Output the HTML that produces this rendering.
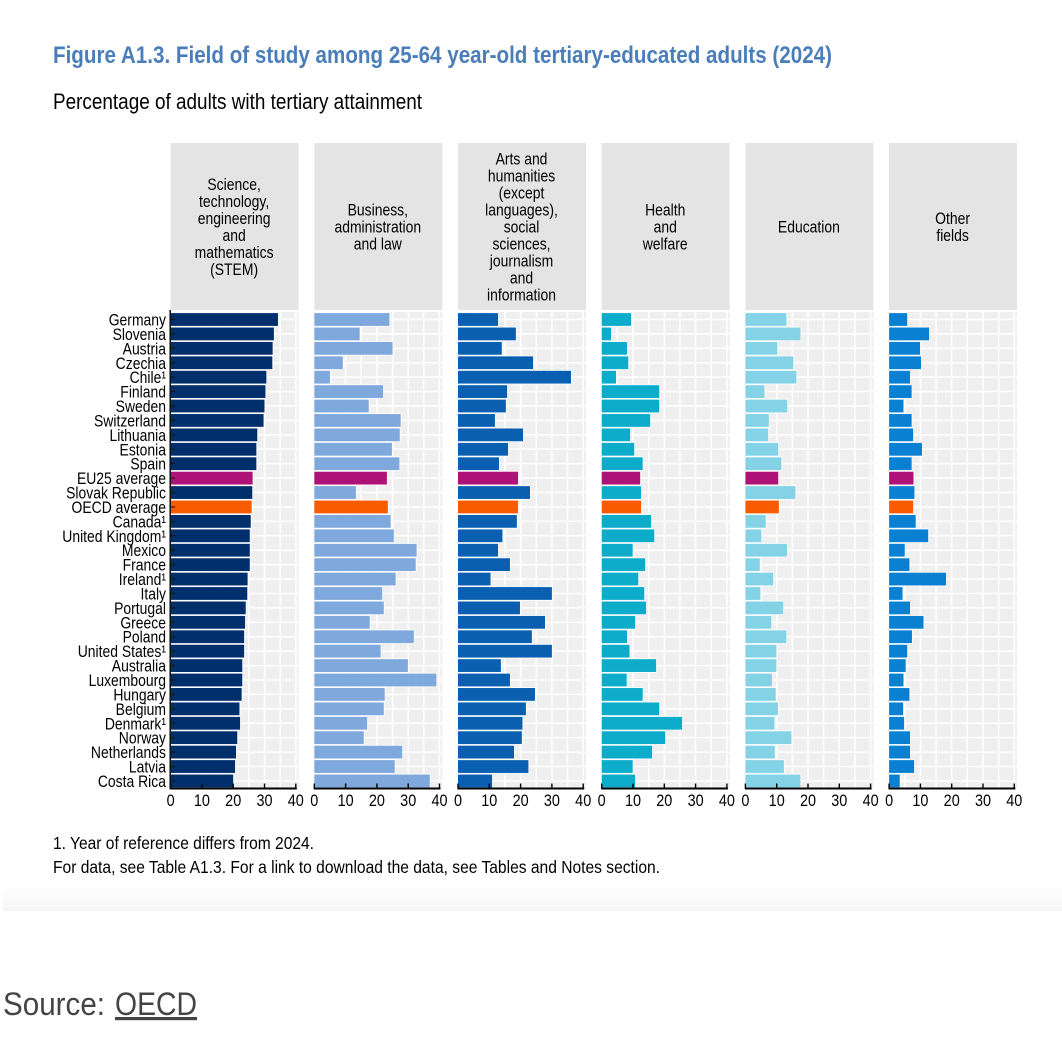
<!DOCTYPE html>
<html lang="en">
<head>
<meta charset="utf-8">
<title>Figure A1.3. Field of study</title>
<style>
html,body{margin:0;padding:0;background:#fff;width:1062px;height:1048px;overflow:hidden}
svg{display:block;font-family:"Liberation Sans",Arial,sans-serif}
</style>
</head>
<body>
<svg id="chart" xmlns="http://www.w3.org/2000/svg" width="1062" height="1048" viewBox="0 0 1062 1048">
  <defs>
    <linearGradient id="fade" x1="0" y1="0" x2="0" y2="1">
      <stop offset="0" stop-color="#ffffff"/>
      <stop offset="1" stop-color="#f6f6f6"/>
    </linearGradient>
  </defs>
  <rect x="3" y="885" width="1059" height="26" fill="url(#fade)"/>
  <text x="53" y="63" font-size="24" font-weight="700" fill="#4a7ebb" textLength="779" lengthAdjust="spacingAndGlyphs">Figure A1.3. Field of study among 25-64 year-old tertiary-educated adults (2024)</text>
  <text x="53" y="109" font-size="22" fill="#000" textLength="369" lengthAdjust="spacingAndGlyphs">Percentage of adults with tertiary attainment</text>
  <g id="plots"></g>
  <text x="53" y="849" font-size="17.5" fill="#000" textLength="261" lengthAdjust="spacingAndGlyphs">1. Year of reference differs from 2024.</text>
  <text x="53" y="873" font-size="17.5" fill="#000" textLength="607" lengthAdjust="spacingAndGlyphs">For data, see Table A1.3. For a link to download the data, see Tables and Notes section.</text>
  <text x="3" y="1015" font-size="32" fill="#444" textLength="102" lengthAdjust="spacingAndGlyphs">Source:</text>
  <text x="115" y="1015" font-size="32" fill="#444" textLength="82" lengthAdjust="spacingAndGlyphs" text-decoration="underline">OECD</text>
</svg>
<script>
const countries = ["Germany","Slovenia","Austria","Czechia","Chile¹","Finland","Sweden","Switzerland","Lithuania","Estonia","Spain","EU25 average","Slovak Republic","OECD average","Canada¹","United Kingdom¹","Mexico","France","Ireland¹","Italy","Portugal","Greece","Poland","United States¹","Australia","Luxembourg","Hungary","Belgium","Denmark¹","Norway","Netherlands","Latvia","Costa Rica"];
const stem = [34.3,33,32.6,32.5,30.6,30.3,30,29.7,27.7,27.4,27.4,26.2,26.1,25.9,25.6,25.3,25.3,25.3,24.6,24.5,24,23.8,23.5,23.5,22.9,22.9,22.7,22,22.2,21.3,20.9,20.6,20];
const business = [24,14.5,25,9.1,5,22,17.4,27.6,27.3,24.8,27.2,23.2,13.3,23.5,24.4,25.4,32.7,32.4,26,21.7,22.2,17.7,31.8,21.2,29.9,39,22.5,22.2,16.9,15.8,28.1,25.7,36.9];
const arts = [12.8,18.5,14,24,36.1,15.7,15.3,11.8,20.8,16,13.1,19.2,23,19.2,18.8,14.2,12.8,16.6,10.4,30,19.8,27.8,23.6,30,13.7,16.6,24.6,21.7,20.6,20.4,17.9,22.5,10.9];
const health = [9.4,3,8.1,8.5,4.6,18.4,18.4,15.5,9.1,10.4,13.1,12.3,12.6,12.6,15.8,16.8,9.9,13.9,11.7,13.6,14.2,10.7,8.1,8.9,17.4,8,13.1,18.4,25.7,20.3,16.1,9.9,10.7];
const education = [13.1,17.6,10.2,15.3,16.3,6.1,13.4,7.5,7.3,10.5,11.5,10.5,16,10.7,6.5,5.1,13.3,4.6,8.9,4.8,12.1,8.3,13.1,9.9,9.9,8.5,9.7,10.4,9.3,14.7,9.4,12.3,17.6];
const otherFields = [5.8,12.8,9.9,10.2,6.7,7.2,4.6,7.2,7.7,10.5,7.2,7.8,8.1,7.7,8.5,12.5,5,6.5,18.2,4.3,6.7,11,7.3,5.8,5.3,4.6,6.5,4.5,4.8,6.7,6.7,8,3.4];
const xTicks = [0,10,20,30,40];
const gridValues = [5,10,15,20,25,30,35,40];
const highlightColors = {"EU25 average":"#ae1277","OECD average":"#f75c03"};

const panels = [
  {key:"stem", values:stem, color:"#002f6c", title:["Science,","technology,","engineering","and","mathematics","(STEM)"]},
  {key:"business", values:business, color:"#7fa8dc", title:["Business,","administration","and law"]},
  {key:"arts", values:arts, color:"#0b5fb0", title:["Arts and","humanities","(except","languages),","social","sciences,","journalism","and","information"]},
  {key:"health", values:health, color:"#0eaccb", title:["Health","and","welfare"]},
  {key:"education", values:education, color:"#83d2e5", title:["Education"]},
  {key:"other", values:otherFields, color:"#0a80d2", title:["Other","fields"]}
];

const NS = "http://www.w3.org/2000/svg";
const root = document.getElementById("plots");
const panelStep = 143.7, firstX = 170.6, unit = 3.13, panelW = 128;
const rowTop = 319.5, rowStep = 14.42, barH = 12.8;
const plotTop = 312, axisY = 788.5;
const panelX = p => firstX + p * panelStep;
const xScale = (p, v) => panelX(p) + v * unit;
const yScale = i => rowTop + i * rowStep;

function make(tag, attrs, parent){
  const el = document.createElementNS(NS, tag);
  for (const k in attrs) el.setAttribute(k, attrs[k]);
  parent.appendChild(el);
  return el;
}

panels.forEach((panel, p) => {
  const x0 = panelX(p);
  const g = make("g", {}, root);
  
  

  const header = make("rect", {x:x0, y:143, width:panelW, height:167, fill:"#e4e4e4"}, g);
  
  

  const n = panel.title.length;
  panel.title.forEach((line, k) => {
    const yy = 232.5 - (n - 1) * 17 / 2 + k * 17;
    const wrap = make("g", {transform:"translate(" + (x0 + 63.5) + " " + yy + ") scale(0.82 1)"}, g);
    const t = make("text", {x:0, y:0, "font-size":17, "text-anchor":"middle", fill:"#000"}, wrap);
    
    
    t.textContent = line;
  });

  const plotBg = make("rect", {x:x0, y:plotTop, width:panelW, height:axisY - plotTop, fill:"#efefef"}, g);
  
  

  gridValues.forEach(v => {
    const gl = make("line", {x1:xScale(p, v), x2:xScale(p, v), y1:plotTop, y2:axisY, stroke:"#fff", "stroke-width":1.5}, g);
    
    
  });
  countries.forEach((c, i) => {
    const hl = make("line", {x1:x0, x2:x0 + panelW, y1:yScale(i), y2:yScale(i), stroke:"#fff", "stroke-width":1.5}, g);
    
    
  });

  panel.values.forEach((v, i) => {
    const c = highlightColors[countries[i]] || panel.color;
    const bar = make("rect", {x:x0, y:yScale(i) - barH / 2, width:xScale(p, v) - x0, height:barH, fill:c, stroke:"#fff", "stroke-width":1.6, "paint-order":"stroke"}, g);
    
    
  });

  const axis = make("line", {x1:x0 - 0.5, x2:xScale(p, 40) + 1, y1:axisY, y2:axisY, stroke:"#000", "stroke-width":2}, g);
  
  

  xTicks.forEach((tv, k) => {
    const tx = xScale(p, tv);
    const tick = make("line", {x1:tx, x2:tx, y1:axisY - 5, y2:axisY, stroke:"#000", "stroke-width":1.4}, g);
    
    
    const wrap = make("g", {transform:"translate(" + tx + " 806) scale(0.85 1)"}, g);
    const lbl = make("text", {x:0, y:0, "font-size":17, "text-anchor":"middle", fill:"#000"}, wrap);
    
    
    lbl.textContent = tv;
  });
});

const yAxis = make("line", {x1:firstX - 0.4, x2:firstX - 0.4, y1:plotTop - 2, y2:axisY + 0.7, stroke:"#111", "stroke-width":1.5}, root);



countries.forEach((c, i) => {
  const tick = make("line", {x1:firstX - 0.4, x2:firstX + 4.5, y1:yScale(i), y2:yScale(i), stroke:"#111", "stroke-width":1}, root);
  
  
  const wrap = make("g", {transform:"translate(166 " + (yScale(i) + 6) + ") scale(0.82 1)"}, root);
  const t = make("text", {x:0, y:0, "font-size":17, "text-anchor":"end", fill:"#000"}, wrap);
  
  
  t.textContent = c;
});
</script>
</body>
</html>
